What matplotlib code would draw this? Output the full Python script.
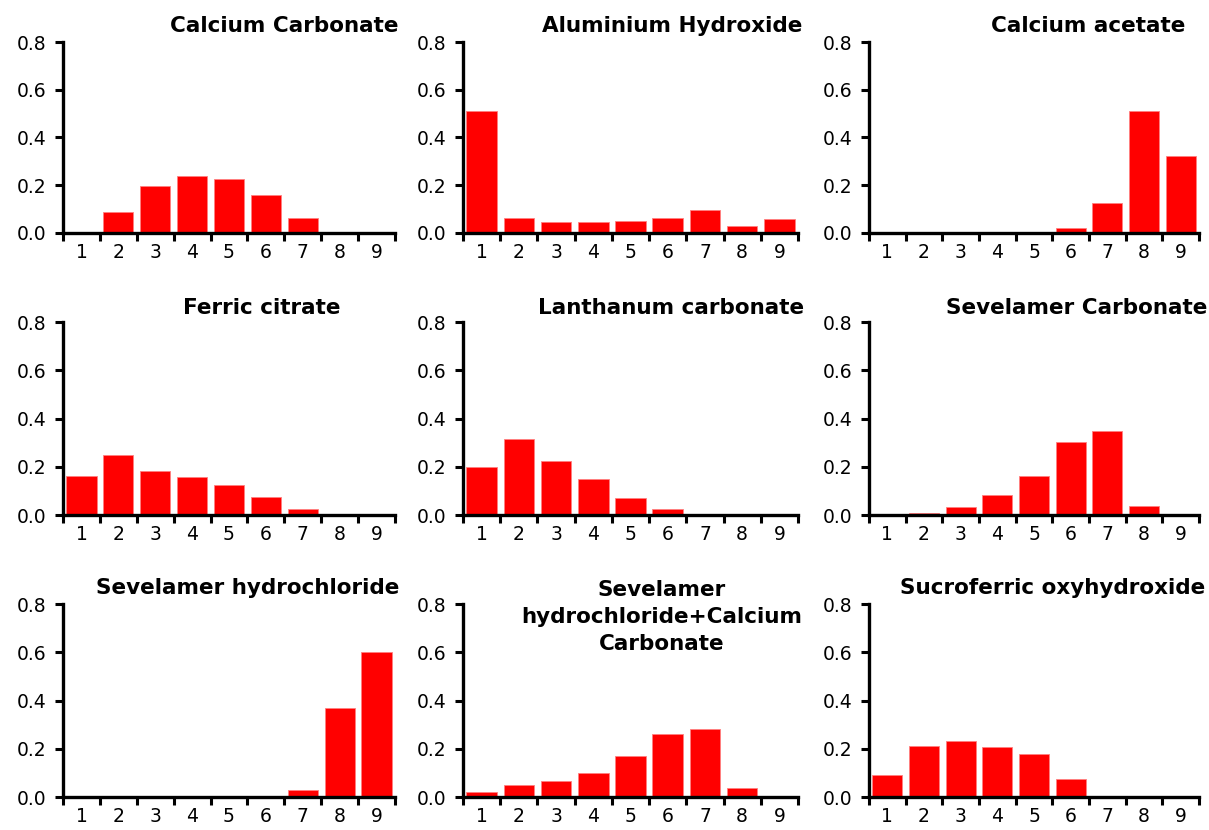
import numpy as np
import matplotlib.pyplot as plt

# proportions per category (1..9) for each phosphate binder
categories = [1, 2, 3, 4, 5, 6, 7, 8, 9]
titles = [
    "Calcium Carbonate", "Aluminium Hydroxide", "Calcium acetate",
    "Ferric citrate", "Lanthanum carbonate", "Sevelamer Carbonate",
    "Sevelamer hydrochloride", "Sevelamer\nhydrochloride+Calcium\nCarbonate",
    "Sucroferric oxyhydroxide",
]
calcium_carbonate = [0.004, 0.089, 0.195, 0.239, 0.225, 0.159, 0.063, 0.0, 0.0]
aluminium_hydroxide = [0.512, 0.063, 0.045, 0.047, 0.051, 0.063, 0.097, 0.031, 0.060]
calcium_acetate = [0.0, 0.0, 0.0, 0.0, 0.0, 0.019, 0.127, 0.513, 0.323]
ferric_citrate = [0.163, 0.249, 0.184, 0.159, 0.123, 0.073, 0.026, 0.0, 0.0]
lanthanum_carbonate = [0.198, 0.316, 0.224, 0.148, 0.071, 0.024, 0.0, 0.0, 0.0]
sevelamer_carbonate = [0.0, 0.008, 0.035, 0.082, 0.162, 0.304, 0.349, 0.037, 0.0]
sevelamer_hcl = [0.0, 0.0, 0.0, 0.0, 0.0, 0.0, 0.029, 0.368, 0.600]
sevelamer_hcl_caco3 = [0.021, 0.048, 0.068, 0.101, 0.169, 0.260, 0.282, 0.036, 0.0]
sucroferric = [0.091, 0.210, 0.231, 0.206, 0.180, 0.076, 0.0, 0.0, 0.0]

series = [calcium_carbonate, aluminium_hydroxide, calcium_acetate,
          ferric_citrate, lanthanum_carbonate, sevelamer_carbonate,
          sevelamer_hcl, sevelamer_hcl_caco3, sucroferric]

W, H = 1209, 830
fig = plt.figure(figsize=(W / 100, H / 100), dpi=100)

# axes boxes in pixels: (left, right) per column, (top, bottom) per row
cols = [(63, 395), (463, 798), (869, 1199)]
rows = [(42, 233), (322, 515), (604, 797)]
# title anchor (x centre, y) in pixels
title_pos = [(284, 32), (672, 32), (1088, 32),
             (262, 314), (671, 314), (1077, 314),
             (248, 594), (662, 617), (1053, 594)]

for i, (vals, title) in enumerate(zip(series, titles)):
    l, r = cols[i % 3]
    t, b = rows[i // 3]
    ax = fig.add_axes([l / W, 1 - b / H, (r - l) / W, (b - t) / H])
    ax.bar(categories, vals, width=0.82, color="#ff0000",
           edgecolor="#ff8080", linewidth=0.6)
    ax.set_xlim(0.5, 9.5)
    ax.set_ylim(0, 0.8)
    ax.set_yticks([0, 0.2, 0.4, 0.6, 0.8])
    ax.set_yticklabels(["0.0", "0.2", "0.4", "0.6", "0.8"])
    ax.set_xticks(categories)
    ax.set_xticks(np.arange(0.5, 10, 1), minor=True)
    ax.tick_params(axis="x", which="major", length=0, labelsize=13.5, pad=7)
    ax.tick_params(axis="x", which="minor", length=6, width=2.2,
                   direction="out")
    ax.tick_params(axis="y", length=6, width=2.2, labelsize=13.5, pad=6)
    for s in ["top", "right"]:
        ax.spines[s].set_visible(False)
    for s in ["left", "bottom"]:
        ax.spines[s].set_linewidth(2.4)
    ax.set_facecolor("none")

    tx, ty = title_pos[i]
    fig.text(tx / W, 1 - ty / H, title, ha="center",
             va="center" if "\n" in title else "baseline",
             fontsize=15.5, fontweight="bold", linespacing=1.45)

fig.savefig("out.png", dpi=100)
